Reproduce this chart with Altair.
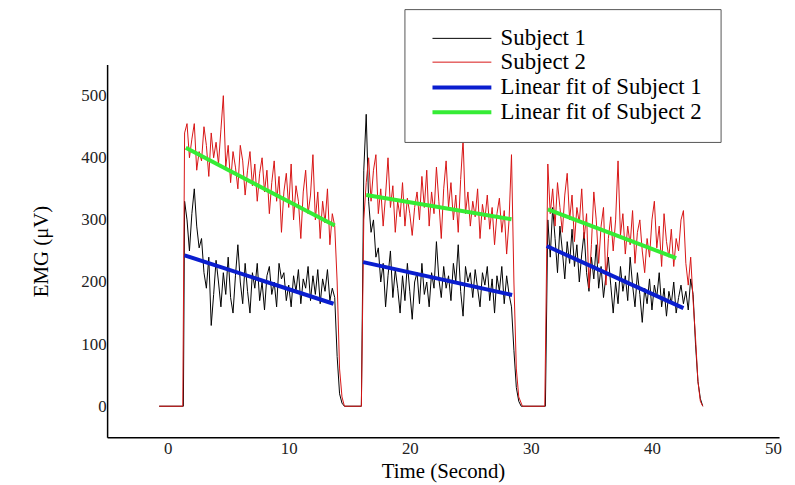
import numpy as np
import pandas as pd
import altair as alt

SERIES = ["Subject 1", "Subject 2", "Linear fit of Subject 1", "Linear fit of Subject 2"]
COLORS = ["#000000", "#d81414", "#0a1ecf", "#35ec35"]
WIDTHS = [1, 1, 4, 4]

X_TICKS = [0, 10, 20, 30, 40, 50]
Y_TICKS = [0, 100, 200, 300, 400, 500]

STEP = 0.2  # sampling step of the bursts (s)

# ---- Subject 1 (black) ----
S1_PRE_T = [-0.7, 1.3]
S1_PRE_V = [0, 0]
S1_B1_START = 1.4
S1_B1 = [330, 300, 250, 310, 350, 290, 255, 270, 215, 190,
         240, 130, 180, 235, 200, 160, 215, 180, 240, 175,
         150, 210, 260, 200, 165, 230, 185, 150, 215, 190,
         230, 170, 200, 155, 210, 225, 180, 200, 160, 230,
         205, 215, 170, 195, 160, 210, 185, 220, 165, 205,
         190, 225, 170, 210, 180, 220, 165, 205, 185, 220,
         170, 190, 175]
S1_F1_T = [14.0, 14.2, 14.4, 14.6, 16.0]
S1_F1_V = [80, 20, 5, 0, 0]
S1_B2_START = 16.2
S1_B2 = [380, 470, 330, 280, 300, 240, 255, 200, 230, 160,
         210, 250, 175, 220, 190, 150, 210, 170, 230, 185,
         140, 200, 215, 165, 230, 180, 200, 160, 215, 190,
         265, 205, 175, 225, 190, 210, 170, 230, 200, 260,
         185, 145, 225, 200, 215, 175, 220, 190, 160, 215,
         195, 225, 170, 205, 150, 210, 185, 225, 165, 210,
         180, 160]
S1_F2_T = [28.6, 28.8, 29.0, 29.2, 31.2]
S1_F2_V = [90, 30, 8, 0, 0]
S1_B3_START = 31.4
S1_B3 = [300, 240, 320, 270, 215, 290, 250, 205, 265, 230,
         285, 225, 260, 200, 245, 280, 215, 185, 240, 205,
         260, 190, 225, 175, 210, 240, 195, 150, 200, 165,
         225, 185, 210, 170, 240, 195, 160, 215, 180, 135,
         190, 165, 205, 155, 195, 175, 215, 160, 190, 145,
         185, 165, 200, 150, 175, 195, 165, 185, 155, 205,
         180]
S1_F3_T = [43.6, 43.8, 44.0, 44.2]
S1_F3_V = [100, 40, 12, 0]

# ---- Subject 2 (red) ----
S2_PRE_T = [-0.7, 1.25]
S2_PRE_V = [0, 0]
S2_B1_START = 1.4
S2_B1 = [440, 455, 400, 430, 455, 380, 410, 395, 450, 420,
         370, 440, 400, 425, 390, 445, 500, 385, 420, 360,
         410, 385, 350, 420, 395, 340, 380, 410, 355, 390,
         330, 375, 400, 345, 380, 310, 360, 395, 330, 370,
         280, 345, 375, 320, 390, 300, 355, 330, 270, 345,
         380, 310, 340, 405, 300, 345, 270, 330, 295, 350,
         260, 310, 290]
S2_F1_T = [14.0, 14.2, 14.4, 14.6, 16.0]
S2_F1_V = [200, 60, 15, 0, 0]
S2_B2_START = 16.2
S2_B2 = [300, 360, 400, 330, 380, 405, 310, 350, 290, 340,
         400, 320, 355, 280, 330, 305, 360, 290, 335, 310,
         275, 320, 345, 300, 370, 320, 380, 290, 345, 310,
         385, 330, 270, 350, 395, 320, 360, 300, 340, 280,
         365, 430, 310, 345, 290, 330, 305, 350, 270, 325,
         300, 340, 285, 320, 260, 310, 335, 280, 315, 245,
         300, 405]
S2_F2_T = [28.6, 28.8, 29.0, 29.3, 31.15]
S2_F2_V = [200, 60, 15, 0, 0]
S2_B3_START = 31.4
S2_B3 = [390, 310, 350, 290, 360, 320, 280, 340, 375, 300,
         340, 265, 320, 295, 350, 270, 310, 190, 260, 345,
         300, 230, 290, 320, 195, 270, 305, 250, 300, 395,
         275, 310, 245, 290, 260, 315, 230, 280, 300, 250,
         215, 270, 240, 300, 330, 255, 290, 225, 310, 265,
         240, 285, 225, 270, 250, 300, 315, 230, 195, 240,
         170]
S2_F3_T = [43.6, 43.8, 44.0, 44.2]
S2_F3_V = [110, 40, 8, 0]

# ---- Linear fits (start/end of each burst) ----
FIT1_T = [[1.4, 13.7], [16.15, 28.45], [31.3, 42.6]]
FIT1_V = [[243, 165], [232, 179], [258, 158]]
FIT2_T = [[1.5, 13.8], [16.4, 28.4], [31.4, 42.0]]
FIT2_V = [[416, 291], [340, 301], [317, 238.5]]


def burst_times(start, values):
    return list(np.round(start + STEP * np.arange(len(values)), 3))


def subject_rows(name, pieces):
    rows = []
    for ts, vs in pieces:
        for t, v in zip(ts, vs):
            rows.append({"t": t, "v": v, "series": name, "seg": name})
    return rows


rows = []
rows += subject_rows("Subject 1", [
    (S1_PRE_T, S1_PRE_V), (burst_times(S1_B1_START, S1_B1), S1_B1), (S1_F1_T, S1_F1_V),
    (burst_times(S1_B2_START, S1_B2), S1_B2), (S1_F2_T, S1_F2_V),
    (burst_times(S1_B3_START, S1_B3), S1_B3), (S1_F3_T, S1_F3_V)])
rows += subject_rows("Subject 2", [
    (S2_PRE_T, S2_PRE_V), (burst_times(S2_B1_START, S2_B1), S2_B1), (S2_F1_T, S2_F1_V),
    (burst_times(S2_B2_START, S2_B2), S2_B2), (S2_F2_T, S2_F2_V),
    (burst_times(S2_B3_START, S2_B3), S2_B3), (S2_F3_T, S2_F3_V)])
for name, TT, VV in [("Linear fit of Subject 1", FIT1_T, FIT1_V),
                     ("Linear fit of Subject 2", FIT2_T, FIT2_V)]:
    for i, (ts, vs) in enumerate(zip(TT, VV)):
        for t, v in zip(ts, vs):
            rows.append({"t": t, "v": v, "series": name, "seg": f"{name}-{i}"})

df = pd.DataFrame(rows)

FONT = "Liberation Serif"

legend = alt.Legend(
    title=None, orient="none", legendX=300, legendY=-56,
    fillColor="white", strokeColor="#555555", padding=18,
    labelFont=FONT, labelFontSize=23, labelColor="black", labelLimit=400,
    symbolType="M-2.7,0H2.7", symbolSize=484, symbolOffset=27, labelOffset=26,
    rowPadding=-2.5,
)

base = alt.Chart(df).mark_line().encode(
    x=alt.X("t:Q", scale=alt.Scale(domain=[-5, 50.5], nice=False, zero=False),
            axis=alt.Axis(values=X_TICKS, title="Time (Second)", titlePadding=5,
                          titleFontSize=21, labelPadding=3)),
    y=alt.Y("v:Q", scale=alt.Scale(domain=[-50, 550], nice=False, zero=False),
            axis=alt.Axis(values=Y_TICKS, title="EMG (μV)", titlePadding=30,
                          titleFontSize=21, labelPadding=1)),
    color=alt.Color("series:N", scale=alt.Scale(domain=SERIES, range=COLORS), legend=legend),
    strokeWidth=alt.StrokeWidth("series:N", scale=alt.Scale(domain=SERIES, range=WIDTHS, type="ordinal"),
                                legend=legend),
    detail="seg:N",
    order="t:Q",
)

chart = alt.layer(
    base.transform_filter(alt.datum.series == "Subject 1"),
    base.transform_filter(alt.datum.series == "Subject 2"),
    base.transform_filter(alt.FieldOneOfPredicate(field="series", oneOf=SERIES[2:])),
).properties(
    width=678, height=376,
    padding={"left": 100, "top": 55, "right": 8, "bottom": 44},
    autosize=alt.AutoSizeParams(type="none"),
    background="white",
).configure_view(stroke=None).configure_axis(
    grid=False, ticks=False, domainColor="black", domainWidth=1.5,
    labelFont=FONT, labelFontSize=17, labelColor="#222222",
    titleFont=FONT, titleFontWeight="normal", titleColor="black",
)

chart.save("out.html", embed_options={"renderer": "svg", "actions": False})
